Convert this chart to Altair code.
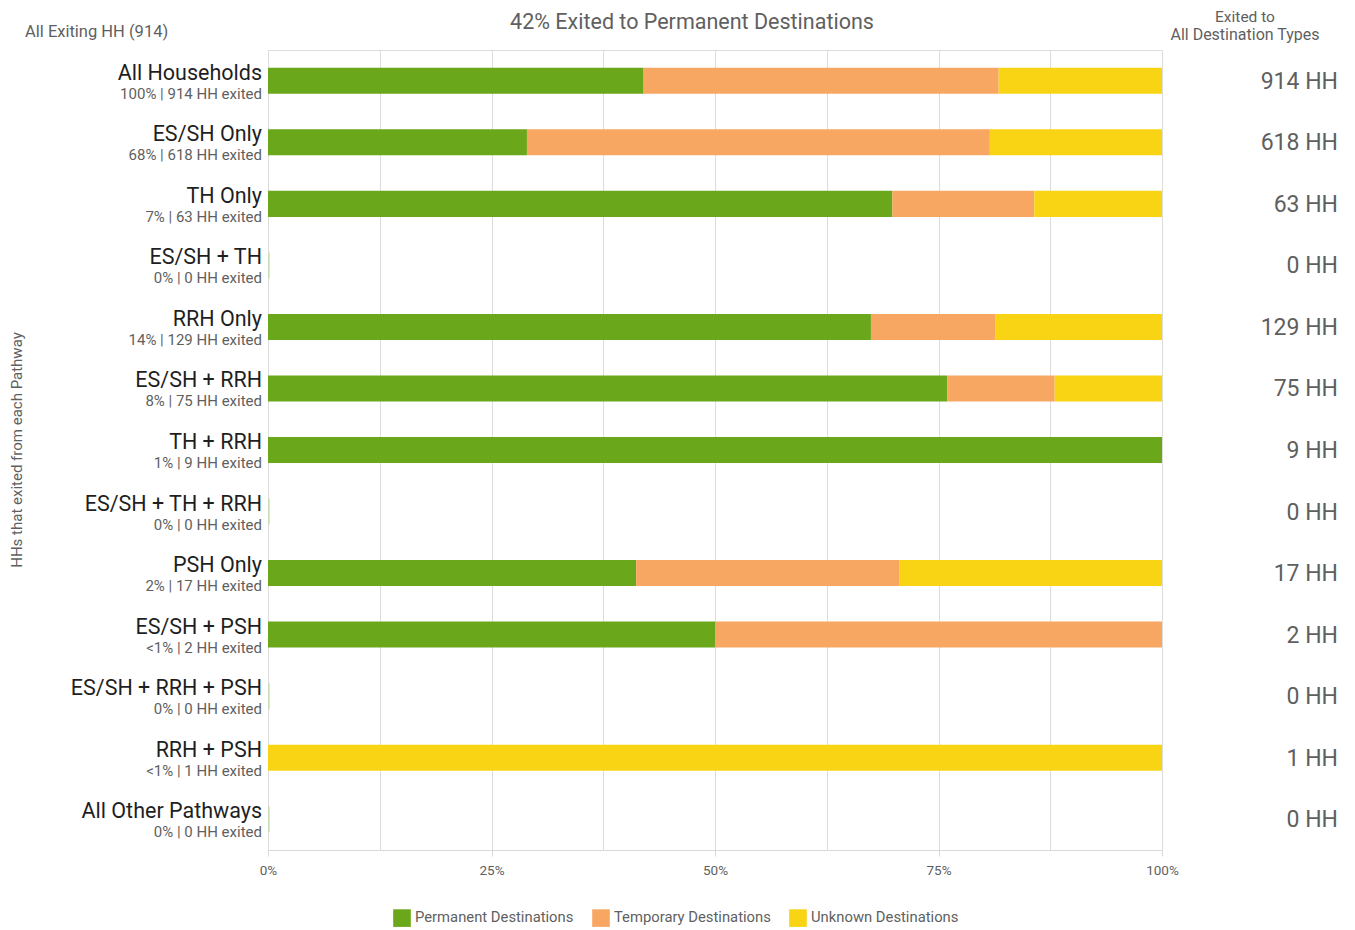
import altair as alt
import pandas as pd

pathways = ["All Households", "ES/SH Only", "TH Only", "ES/SH + TH", "RRH Only",
            "ES/SH + RRH", "TH + RRH", "ES/SH + TH + RRH", "PSH Only", "ES/SH + PSH",
            "ES/SH + RRH + PSH", "RRH + PSH", "All Other Pathways"]
share_labels = ["100% | 914 HH exited", "68% | 618 HH exited", "7% | 63 HH exited",
                "0% | 0 HH exited", "14% | 129 HH exited", "8% | 75 HH exited",
                "1% | 9 HH exited", "0% | 0 HH exited", "2% | 17 HH exited",
                "<1% | 2 HH exited", "0% | 0 HH exited", "<1% | 1 HH exited",
                "0% | 0 HH exited"]
totals = [914, 618, 63, 0, 129, 75, 9, 0, 17, 2, 0, 1, 0]
permanent = [384, 179, 44, 0, 87, 57, 9, 0, 7, 1, 0, 0, 0]
temporary = [363, 320, 10, 0, 18, 9, 0, 0, 5, 1, 0, 0, 0]
unknown = [167, 119, 9, 0, 24, 9, 0, 0, 5, 0, 0, 1, 0]
categories = ["Permanent Destinations", "Temporary Destinations", "Unknown Destinations"]
colors = ["#6AA71A", "#F8A763", "#F8D415"]
x_ticks = [0, 0.125, 0.25, 0.375, 0.5, 0.625, 0.75, 0.875, 1.0]

rows = []
for i, p in enumerate(pathways):
    for j, (cat, vals) in enumerate(zip(categories, [permanent, temporary, unknown])):
        rows.append({"pathway": p, "category": cat, "count": vals[i], "order": j})
long_df = pd.DataFrame(rows)
path_df = pd.DataFrame({"pathway": pathways, "share": share_labels, "total": totals,
                        "hh": [f"{t} HH" for t in totals]})

FONT = "Roboto"
GRAY = "#5f5f5f"
W, H = 894, 800

y_enc = alt.Y("pathway:N", sort=pathways, axis=None,
              scale=alt.Scale(domain=pathways, paddingInner=0.577, paddingOuter=0.289))

bars = alt.Chart(long_df).transform_filter("datum.count > 0").mark_bar().encode(
    y=y_enc,
    x=alt.X("count:Q", stack="normalize", title=None,
            scale=alt.Scale(domain=[0, 1], nice=False),
            axis=alt.Axis(values=x_ticks,
                          labelExpr="datum.value % 0.25 == 0 ? format(datum.value, '.0%') : ''",
                          grid=True, gridColor="#dcdcdc", domainColor="#d9d9d9",
                          tickColor="#d9d9d9", tickSize=6, labelFlush=False,
                          tickOpacity={"condition": {"test": "datum.value % 0.25 != 0", "value": 0}, "value": 1},
                          labelFontSize=13.5, labelColor=GRAY, labelPadding=7, labelFont=FONT)),
    color=alt.Color("category:N", sort=categories,
                    scale=alt.Scale(domain=categories, range=colors),
                    legend=alt.Legend(title=None, orient="none", direction="horizontal",
                                      legendX=125, legendY=859, symbolType="square",
                                      symbolSize=310, symbolStrokeWidth=0,
                                      labelFontSize=14.8, labelColor=GRAY, labelFont=FONT,
                                      columnPadding=18, symbolOffset=0)),
    order=alt.Order("order:Q"),
)

zero_ticks = alt.Chart(path_df).transform_filter("datum.total == 0").mark_tick(
    orient="vertical", thickness=1.5, size=26, color="#b8dc92"
).encode(y=y_enc, x=alt.value(1))

main_labels = alt.Chart(path_df).mark_text(
    align="right", baseline="alphabetic", fontSize=21.5, font=FONT, color="#1f1f1f", dy=-1
).encode(y=y_enc, x=alt.value(-6), text="pathway:N")

sub_labels = alt.Chart(path_df).mark_text(
    align="right", baseline="alphabetic", fontSize=15, font=FONT, color=GRAY, dy=18
).encode(y=y_enc, x=alt.value(-6), text="share:N")

right_labels = alt.Chart(path_df).mark_text(
    align="right", baseline="middle", fontSize=23, font=FONT, color=GRAY, dy=1
).encode(y=y_enc, x=alt.value(1070), text="hh:N")

def header(txt, x, y, size, align="center", angle=0):
    return alt.Chart(pd.DataFrame({"t": [txt]})).mark_text(
        align=align, baseline="middle", fontSize=size, font=FONT, color=GRAY, angle=angle
    ).encode(x=alt.value(x), y=alt.value(y), text="t:N")

title_txt = header("42% Exited to Permanent Destinations", 424, -27, 21.5)
left_hdr = header("All Exiting HH (914)", -243, -18, 16.5, align="left")
right_hdr1 = header("Exited to", 977, -33, 15.5)
right_hdr2 = header("All Destination Types", 977, -15, 16)
ytitle = header("HHs that exited from each Pathway", -251, 400, 15, angle=270)

chart = alt.layer(bars, zero_ticks, main_labels, sub_labels, right_labels,
                  title_txt, left_hdr, right_hdr1, right_hdr2, ytitle).properties(
    width=W, height=H,
    autosize=alt.AutoSizeParams(type="none"),
    padding={"left": 260, "top": 42, "right": 185, "bottom": 80},
).configure_view(stroke=None).configure(font=FONT)

chart.save("out.html", embed_options={"renderer": "svg", "actions": False})
